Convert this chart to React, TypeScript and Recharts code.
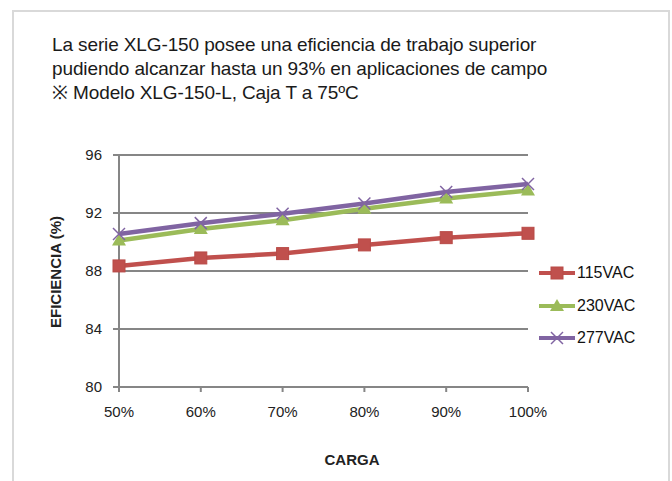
import React from 'react';
import { LineChart, Line, XAxis, YAxis, CartesianGrid } from 'recharts';

const CATEGORIES = ['50%', '60%', '70%', '80%', '90%', '100%'];
const VAC115 = [88.35, 88.9, 89.2, 89.8, 90.3, 90.6];
const VAC230 = [90.1, 90.9, 91.5, 92.3, 93.0, 93.55];
const VAC277 = [90.55, 91.3, 91.95, 92.65, 93.45, 94.0];
const Y_TICKS = [80, 84, 88, 92, 96];

const SERIES = [
  { key: 'v115', name: '115VAC', color: '#C0504D', marker: 'square' },
  { key: 'v230', name: '230VAC', color: '#9BBB59', marker: 'triangle' },
  { key: 'v277', name: '277VAC', color: '#8064A2', marker: 'cross' },
];

const data = CATEGORIES.map((c, i) => ({
  name: c,
  v115: VAC115[i],
  v230: VAC230[i],
  v277: VAC277[i],
}));

const FONT = '"Liberation Sans", Arial, sans-serif';

const Marker = ({ cx, cy, kind, color }: { cx: number; cy: number; kind: string; color: string }) => {
  if (kind === 'square') {
    return <rect x={cx - 6} y={cy - 6} width={12} height={12} fill={color} stroke="#B84A47" strokeWidth={1} />;
  }
  if (kind === 'triangle') {
    return <polygon points={`${cx},${cy - 7} ${cx + 7},${cy + 5} ${cx - 7},${cy + 5}`} fill={color} />;
  }
  return (
    <g stroke={color} strokeWidth={1.5}>
      <line x1={cx - 6} y1={cy - 6} x2={cx + 6} y2={cy + 6} />
      <line x1={cx - 6} y1={cy + 6} x2={cx + 6} y2={cy - 6} />
    </g>
  );
};

const makeDot = (kind: string, color: string) => (props: any) => (
  <Marker key={`${kind}-${props.index}`} cx={props.cx} cy={props.cy} kind={kind} color={color} />
);

// legend drawn by hand so it doesn't eat into the plot area
const ChartLegend = () => (
  <div style={{ position: 'absolute', left: 538, top: 257, fontFamily: FONT, fontSize: 16, color: '#111' }}>
    {SERIES.map((s) => (
      <div key={s.key} style={{ display: 'flex', alignItems: 'center', height: 32.5 }}>
        <svg width={38} height={16}>
          <line x1={1} y1={8} x2={37} y2={8} stroke={s.color} strokeWidth={4} />
          <Marker cx={19} cy={8} kind={s.marker} color={s.color} />
        </svg>
        <span style={{ marginLeft: 1 }}>{s.name}</span>
      </div>
    ))}
  </div>
);

export default function App() {
  return (
    <div style={{ position: 'absolute', left: 0, top: 0, width: 672, height: 481, background: '#fff', overflow: 'hidden' }}>
      <div
        style={{
          position: 'absolute',
          left: 12,
          top: 10,
          width: 654,
          height: 480,
          border: '2px solid #D9D9D9',
          borderBottom: 'none',
        }}
      />
      <div
        style={{
          position: 'absolute',
          left: 52,
          top: 33,
          fontFamily: FONT,
          fontSize: 19,
          letterSpacing: -0.12,
          lineHeight: '24px',
          color: '#1a1a1a',
        }}
      >
        <div>La serie XLG-150 posee una eficiencia de trabajo superior</div>
        <div>pudiendo alcanzar hasta un 93% en aplicaciones de campo</div>
        <div>※ Modelo XLG-150-L, Caja T a 75ºC</div>
      </div>
      <div style={{ position: 'absolute', left: 0, top: 0 }}>
        <LineChart width={672} height={481} data={data} margin={{ top: 155, right: 144, left: 0, bottom: 0 }}>
          <CartesianGrid vertical={false} stroke="#868686" strokeWidth={2} />
          <XAxis
            dataKey="name"
            height={94}
            interval={0}
            padding={{ left: 0, right: 0 }}
            axisLine={{ stroke: '#868686', strokeWidth: 2 }}
            tickLine={{ stroke: '#868686', strokeWidth: 2 }}
            tickSize={5}
            tickMargin={14}
            tick={{ fill: '#222', fontSize: 15, fontFamily: FONT }}
          />
          <YAxis
            domain={[80, 96]}
            ticks={Y_TICKS}
            width={119}
            interval={0}
            axisLine={{ stroke: '#868686', strokeWidth: 2 }}
            tickLine={{ stroke: '#868686', strokeWidth: 2 }}
            tickSize={6}
            tickMargin={11}
            tick={{ fill: '#222', fontSize: 15, fontFamily: FONT }}
          />
          {SERIES.map((s) => (
            <Line
              key={s.key}
              type="linear"
              dataKey={s.key}
              name={s.name}
              stroke={s.color}
              strokeWidth={4.5}
              dot={makeDot(s.marker, s.color)}
              activeDot={false}
              isAnimationActive={false}
            />
          ))}
        </LineChart>
      </div>
      <ChartLegend />
      <div
        style={{
          position: 'absolute',
          left: 55,
          top: 272,
          transform: 'translate(-50%, -50%) rotate(-90deg)',
          fontFamily: FONT,
          fontWeight: 'bold',
          fontSize: 15,
          whiteSpace: 'nowrap',
          color: '#222',
        }}
      >
        EFICIENCIA (%)
      </div>
      <div
        style={{
          position: 'absolute',
          left: 352,
          top: 451,
          transform: 'translateX(-50%)',
          fontFamily: FONT,
          fontWeight: 'bold',
          fontSize: 15,
          color: '#222',
        }}
      >
        CARGA
      </div>
    </div>
  );
}
